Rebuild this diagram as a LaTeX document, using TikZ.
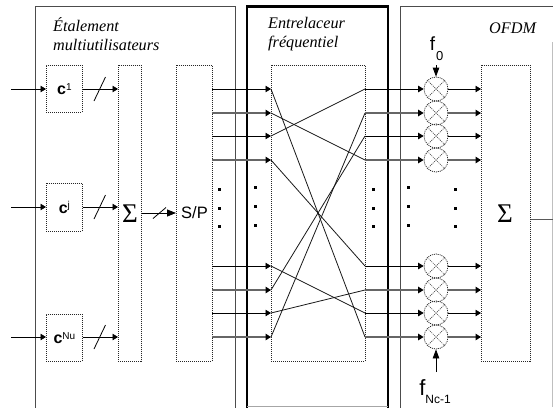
\documentclass[tikz,border=0pt]{standalone}
\usepackage{fontspec}
\setmainfont{Liberation Serif}
\newfontfamily\arialf{Liberation Sans}
\usetikzlibrary{arrows.meta}
\newcommand{\clabel}[1]{\arialf\fontsize{16}{16}\selectfont\textbf{c}\raisebox{4.5pt}{\fontsize{10}{10}\selectfont #1}}
\tikzset{
  x=1pt,y=-1pt,
  frame/.style={draw=black!70,line width=1pt,line cap=rect},
  thickframe/.style={draw=black,line width=2.4pt,line cap=rect},
  dotbox/.style={draw=black!85,line width=0.8pt,dash pattern=on 1pt off 1pt,rectangle,inner sep=0pt,anchor=north west},
  mixer/.style={draw=black!85,line width=0.8pt,dash pattern=on 1pt off 1pt,circle,minimum size=24pt,inner sep=0pt},
  mixx/.style={draw=black!70,line width=0.7pt,dash pattern=on 1pt off 1pt},
  sig/.style={draw=black,line width=0.8pt},
  sigg/.style={draw=black!60,line width=1.3pt},
  arr/.style={-{Triangle[length=5.5pt,width=6.5pt]}},
  arrg/.style={-{Triangle[length=5.5pt,width=6.5pt,black]}},
  slash/.style={draw=black,line width=0.8pt},
  title/.style={font=\itshape\fontsize{16.2}{19}\selectfont,align=left,anchor=north west,inner sep=0pt},
  lab/.style={font=\arialf\fontsize{16.5}{18}\selectfont,inner sep=0pt},
  sumlab/.style={font=\fontsize{27}{27}\selectfont,inner sep=0pt},
  dotmark/.style={fill=black,rectangle,minimum size=3pt,inner sep=0pt},
  perm/.style={draw=black!90,line width=0.8pt},
}
\begin{document}
\begin{tikzpicture}
\useasboundingbox (0,0) rectangle (553,407);
% frames
\draw[frame] (35,407) -- (35,6.5) -- (235,6.5) -- (235,407);
\draw[thickframe] (247,407) -- (247,6.5) -- (388,6.5) -- (388,407);
\draw[draw=black!35,line width=0.7pt] (247,406.5) -- (388,406.5);
\draw[frame] (400,407) -- (400,6.5) -- (553,6.5);
\draw[draw=black!25,line width=0.7pt] (552.5,42) -- (552.5,407);
% titles
\node[title] (t1) at (53,17) {Étalement\\multiutilisateurs};
\node[title] (t2) at (268,17) {Entrelaceur\\fréquentiel};
\node[title] (t3) at (489,23) {OFDM};
% boxes
\node[dotbox,minimum width=36pt,minimum height=47pt] (c1) at (46,65) {\clabel{1}};
\node[dotbox,minimum width=36pt,minimum height=48pt] (cj) at (46,183) {\clabel{j}};
\node[dotbox,minimum width=36pt,minimum height=47pt] (cn) at (46,314) {\clabel{Nu}};
\node[dotbox,minimum width=23pt,minimum height=296pt] (s1) at (118,65) {};
\node[dotbox,minimum width=36pt,minimum height=296pt] (sp) at (176,65) {};
\node[dotbox,minimum width=94pt,minimum height=296pt] (il) at (271,65) {};
\node[dotbox,minimum width=49pt,minimum height=296pt] (s2) at (481,65) {};
\node[sumlab] (sg1) at (130,214) {Σ};
\node[sumlab] (sg2) at (505,214) {Σ};
\node[lab] (sptxt) at (194.5,213) {S/P};
% inputs
\coordinate (i1) at (11,89); \coordinate (i2) at (11,207); \coordinate (i3) at (11,337);
\draw[sig,arr] (i1) -- (i1 -| c1.west);
\draw[sig,arr] (i2) -- (i2 -| cj.west);
\draw[sig,arr] (i3) -- (i3 -| cn.west);
\draw[sig,arr] (i1 -| c1.east) -- (i1 -| s1.west);
\draw[sig,arr] (i2 -| cj.east) -- (i2 -| s1.west);
\draw[sig,arr] (i3 -| cn.east) -- (i3 -| s1.west);
\foreach \y in {89,207,337} \draw[slash] (94,\y+12) -- (105.5,\y-12);
\coordinate (m) at (0,213);
\draw[sig,-{Triangle[length=9pt,width=7pt]}] (m -| s1.east) -- (m -| sp.west);
\draw[slash] (153,218.5) -- (166,207.5);
% channels
\foreach \n/\y/\st in {a/89/sig,b/113/sigg,c/136/sig,d/160/sigg,e/266/sig,f/290/sigg,g/313/sig,h/337/sigg}{
  \coordinate (L\n) at (271,\y);
  \coordinate (R\n) at (365,\y);
  \coordinate (S\n) at (212,\y);
  \node[mixer] (M\n) at (436,\y) {};
  \draw[mixx] (M\n.45) -- (M\n.225);
  \draw[mixx] (M\n.135) -- (M\n.315);
  \draw[\st,arrg] (S\n) -- (L\n);
  \draw[\st,arrg] (R\n) -- (M\n.west);
  \draw[\st,arrg] (M\n.east) -- (M\n.east -| s2.west);
}
% permutation
\draw[perm] (La) -- (Rh);
\draw[perm] (Lb) -- (Rd);
\draw[perm] (Lc) -- (Ra);
\draw[perm] (Ld) -- (Re);
\draw[perm] (Le) -- (Rg);
\draw[perm] (Lf) -- (Rc);
\draw[perm] (Lg) -- (Rf);
\draw[perm] (Lh) -- (Rb);
% dots
\foreach \x/\a/\b/\c in {219.5/189/208/226,255.5/187/206/225,373.5/189/208/226,408.5/187/206/225,455.5/189/208/226}{
  \node[dotmark] at (\x,\a) {};
  \node[dotmark] at (\x,\b) {};
  \node[dotmark] at (\x,\c) {};
}
% frequencies
\node[lab,font=\arialf\fontsize{19}{20}\selectfont,anchor=base] (f0) at (432.5,50.5) {f};
\node[lab,font=\arialf\fontsize{13}{14}\selectfont,anchor=base west,xshift=0.5pt,yshift=-9.5pt] (f0s) at (f0.base east) {0};
\coordinate (f0a) at (436,65);
\draw[sig,-{Triangle[length=9pt,width=6.5pt]}] (f0a) -- (Ma.north);
\node[lab,font=\arialf\fontsize{22}{22}\selectfont,anchor=base] (fN) at (422.5,395) {f};
\node[lab,font=\arialf\fontsize{12}{14}\selectfont,anchor=base west,xshift=-0.5pt,yshift=-8pt] (fNs) at (fN.base east) {Nc-1};
\coordinate (fNa) at (436,372);
\draw[sig,-{Triangle[length=9pt,width=6.5pt]}] (fNa) -- (Mh.south);
% output
\coordinate (o) at (553,219);
\draw[draw=black!65,line width=1pt] (o -| s2.east) -- (o);
\end{tikzpicture}
\end{document}
